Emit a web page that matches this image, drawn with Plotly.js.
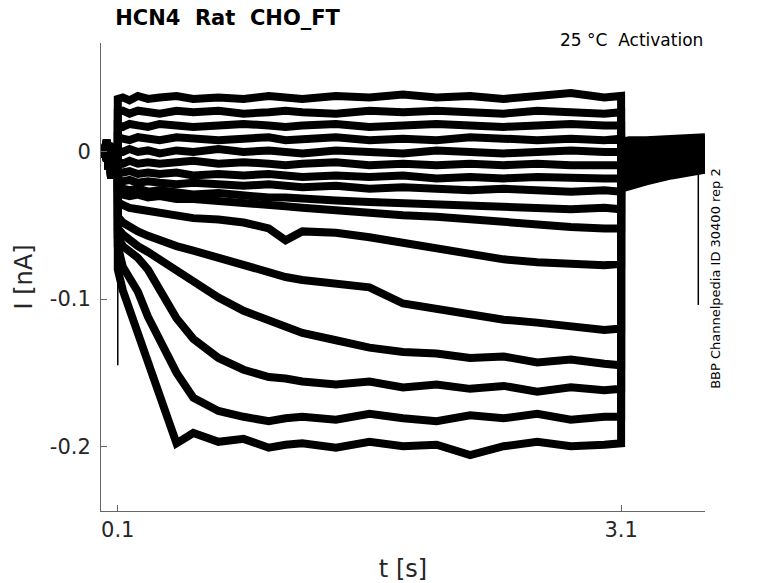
<!DOCTYPE html>
<html>
<head>
<meta charset="utf-8">
<script src="https://cdn.plot.ly/plotly-3.0.1.min.js"></script>
<style>
  html, body { margin: 0; padding: 0; background: #fff; }
  #plot { width: 778px; height: 583px; }
</style>
</head>
<body>
<div id="plot"></div>
<script>
"use strict";

// ── Time grids (s) ──
const preT  = [0, 0.02, 0.035, 0.045, 0.06, 0.08, 0.1];
const stepT = [0.1, 0.13, 0.17, 0.22, 0.28, 0.35, 0.45, 0.55, 0.7, 0.85, 1.0,
               1.1, 1.2, 1.4, 1.6, 1.8, 2.0, 2.2, 2.4, 2.6, 2.8, 3.0, 3.1];
const tailT = [3.1, 3.15, 3.25, 3.4, 3.5, 3.6];

// ── Holding current before the step (nA), three recordings overlap ──
const preA = [0.002, -0.003, 0.004, -0.012, 0.001, -0.002, 0.000];
const preB = [-0.004, 0.003, -0.006, 0.006, -0.018, 0.003, -0.003];
const preC = [0.004, 0.001, 0.008, -0.004, 0.005, -0.005, 0.003];

// ── Current during the activation step (nA), top to bottom ──
const step16 = [0.036, 0.037, 0.035, 0.038, 0.036, 0.037, 0.038, 0.036, 0.037, 0.036, 0.038,
                0.037, 0.036, 0.038, 0.037, 0.039, 0.037, 0.038, 0.036, 0.038, 0.040, 0.037, 0.038];
const step15 = [0.027, 0.028, 0.026, 0.028, 0.027, 0.026, 0.028, 0.027, 0.028, 0.026, 0.027,
                0.028, 0.027, 0.026, 0.028, 0.027, 0.028, 0.027, 0.026, 0.028, 0.027, 0.026, 0.027];
const step14 = [0.018, 0.017, 0.019, 0.018, 0.017, 0.019, 0.018, 0.017, 0.018, 0.019, 0.018,
                0.017, 0.018, 0.019, 0.017, 0.018, 0.019, 0.018, 0.017, 0.018, 0.019, 0.018, 0.018];
const step13 = [0.010, 0.009, 0.008, 0.010, 0.009, 0.008, 0.010, 0.009, 0.008, 0.009, 0.010,
                0.008, 0.009, 0.010, 0.008, 0.009, 0.008, 0.010, 0.009, 0.008, 0.009, 0.008, 0.009];
const step12 = [0.001, 0.000, 0.002, 0.000, 0.001, -0.001, 0.001, 0.000, 0.002, 0.000, 0.001,
                0.000, -0.001, 0.001, 0.000, -0.001, 0.001, 0.000, -0.001, 0.000, 0.001, 0.000, 0.000];
const step11 = [-0.007, -0.008, -0.006, -0.008, -0.007, -0.008, -0.007, -0.006, -0.008, -0.007, -0.008,
                -0.009, -0.008, -0.007, -0.009, -0.008, -0.009, -0.008, -0.009, -0.008, -0.009, -0.009, -0.009];
const step10 = [-0.013, -0.014, -0.013, -0.015, -0.014, -0.015, -0.014, -0.016, -0.015, -0.016, -0.015,
                -0.016, -0.017, -0.016, -0.017, -0.016, -0.018, -0.017, -0.018, -0.017, -0.018, -0.018, -0.018];
const step9  = [-0.019, -0.020, -0.019, -0.021, -0.020, -0.021, -0.022, -0.021, -0.022, -0.023, -0.022,
                -0.023, -0.024, -0.023, -0.025, -0.024, -0.025, -0.026, -0.025, -0.026, -0.027, -0.026, -0.027];
const step8  = [-0.024, -0.025, -0.026, -0.025, -0.027, -0.026, -0.028, -0.029, -0.028, -0.030, -0.031,
                -0.031, -0.032, -0.033, -0.034, -0.035, -0.035, -0.036, -0.037, -0.038, -0.039, -0.038, -0.039];
const step7  = [-0.028, -0.029, -0.030, -0.029, -0.031, -0.030, -0.032, -0.032, -0.033, -0.034, -0.036,
                -0.037, -0.038, -0.040, -0.041, -0.043, -0.044, -0.046, -0.048, -0.049, -0.051, -0.052, -0.052];
const step6  = [-0.034, -0.036, -0.038, -0.039, -0.040, -0.042, -0.043, -0.045, -0.046, -0.048, -0.052,
                -0.060, -0.054, -0.055, -0.058, -0.062, -0.066, -0.069, -0.073, -0.075, -0.076, -0.077, -0.076];
const step5  = [-0.044, -0.048, -0.051, -0.054, -0.057, -0.060, -0.064, -0.067, -0.072, -0.077, -0.082,
                -0.085, -0.087, -0.090, -0.092, -0.103, -0.107, -0.110, -0.114, -0.116, -0.118, -0.121, -0.120];
const step4  = [-0.052, -0.056, -0.060, -0.064, -0.068, -0.073, -0.080, -0.088, -0.099, -0.108, -0.115,
                -0.119, -0.123, -0.128, -0.133, -0.136, -0.137, -0.140, -0.139, -0.143, -0.141, -0.144, -0.145];
const step3  = [-0.058, -0.064, -0.068, -0.072, -0.080, -0.094, -0.113, -0.127, -0.140, -0.148, -0.153,
                -0.154, -0.156, -0.158, -0.156, -0.160, -0.158, -0.161, -0.159, -0.163, -0.160, -0.162, -0.161];
const step2  = [-0.064, -0.078, -0.086, -0.095, -0.112, -0.128, -0.150, -0.167, -0.176, -0.180, -0.183,
                -0.181, -0.180, -0.182, -0.178, -0.181, -0.183, -0.179, -0.181, -0.178, -0.182, -0.180, -0.180];
const step1  = [-0.080, -0.094, -0.107, -0.124, -0.144, -0.167, -0.198, -0.191, -0.197, -0.195, -0.201,
                -0.199, -0.198, -0.201, -0.197, -0.200, -0.199, -0.206, -0.200, -0.197, -0.200, -0.199, -0.198];

// ── Tail current after the step (nA) ──
const tail16 = [0.007, 0.008, 0.008, 0.009, 0.009, 0.010];
const tail15 = [0.005, 0.006, 0.007, 0.008, 0.008, 0.009];
const tail14 = [0.003, 0.004, 0.005, 0.006, 0.007, 0.007];
const tail13 = [0.001, 0.002, 0.003, 0.004, 0.005, 0.006];
const tail12 = [-0.002, -0.001, 0.001, 0.002, 0.003, 0.004];
const tail11 = [-0.004, -0.003, -0.002, 0.000, 0.001, 0.002];
const tail10 = [-0.007, -0.006, -0.004, -0.002, -0.001, 0.000];
const tail9  = [-0.009, -0.008, -0.006, -0.004, -0.003, -0.002];
const tail8  = [-0.011, -0.010, -0.008, -0.006, -0.005, -0.004];
const tail7  = [-0.013, -0.012, -0.010, -0.008, -0.007, -0.006];
const tail6  = [-0.015, -0.014, -0.012, -0.010, -0.008, -0.007];
const tail5  = [-0.017, -0.016, -0.014, -0.012, -0.010, -0.009];
const tail4  = [-0.019, -0.018, -0.016, -0.013, -0.011, -0.010];
const tail3  = [-0.021, -0.020, -0.017, -0.014, -0.012, -0.011];
const tail2  = [-0.023, -0.021, -0.018, -0.015, -0.013, -0.012];
const tail1  = [-0.025, -0.023, -0.020, -0.016, -0.014, -0.012];

// Capacitive / artefact spikes
const spikeOnT = [0.1, 0.1];
const spikeOnI = [-0.02, -0.145];
const spikeEndT = [3.56, 3.56];
const spikeEndI = [-0.012, -0.104];

const stepSeries = [step16, step15, step14, step13, step12, step11, step10, step9,
                    step8, step7, step6, step5, step4, step3, step2, step1];
const tailSeries = [tail16, tail15, tail14, tail13, tail12, tail11, tail10, tail9,
                    tail8, tail7, tail6, tail5, tail4, tail3, tail2, tail1];
const preSeries = [preA, preB, preC];

// Axis ticks
const xTickVals = [0.1, 3.1];
const xTickText = ["0.1", "3.1"];
const yTickVals = [0, -0.1, -0.2];
const yTickText = ["0", "-0.1", "-0.2"];

const FONT = "DejaVu Sans, sans-serif";
const traces = [];

// ── One trace per sweep: holding → step → tail ──
// Lines are drawn wide so each sweep reads as the noisy band it is in
// the recording.
stepSeries.forEach((s, i) => {
    const pre = preSeries[i % preSeries.length];
    traces.push({
        type: "scatter", mode: "lines",
        x: preT.concat(stepT, tailT),
        y: pre.concat(s, tailSeries[i]),
        line: { color: "#000", width: 8 },
        hoverinfo: "skip", showlegend: false,
    });
});
for (const [xs, ys] of [[spikeOnT, spikeOnI], [spikeEndT, spikeEndI]]) {
    traces.push({
        type: "scatter", mode: "lines", x: xs, y: ys,
        line: { color: "#000", width: 1.5 },
        hoverinfo: "skip", showlegend: false,
    });
}

const layout = {
    width: 778, height: 583,
    margin: { l: 101, r: 73, t: 43, b: 72 },
    paper_bgcolor: "#fff", plot_bgcolor: "#fff",
    font: { family: FONT, color: "#262626" },
    title: {
        text: "<b>HCN4  Rat  CHO_FT</b>",
        xref: "container", x: 0.148, xanchor: "left",
        yref: "container", y: 0.969, yanchor: "middle",
        font: { size: 21, color: "#000", family: FONT },
    },
    xaxis: {
        range: [0, 3.6], showgrid: false, zeroline: false,
        showline: true, linecolor: "#666", linewidth: 1,
        ticks: "inside", ticklen: 6, tickcolor: "#666",
        tickvals: xTickVals, ticktext: xTickText,
        tickfont: { size: 21, color: "#262626" },
        title: { text: "t [s]", font: { size: 24, color: "#262626" }, standoff: 20 },
    },
    yaxis: {
        range: [-0.244, 0.074], showgrid: false, zeroline: false,
        showline: true, linecolor: "#666", linewidth: 1,
        ticks: "inside", ticklen: 6, tickcolor: "#666",
        tickvals: yTickVals, ticktext: yTickText,
        tickfont: { size: 21, color: "#262626" },
        ticklabelstandoff: 5,
        title: { text: "I [nA]", font: { size: 24, color: "#262626" }, standoff: 10 },
    },
    annotations: [
        { text: "25 °C  Activation", xref: "paper", yref: "paper",
          x: 1.0, y: 1.006, xanchor: "right", yanchor: "middle", showarrow: false,
          font: { size: 17, color: "#000" } },
        { text: "BBP Channelpedia ID 30400 rep 2", xref: "paper", yref: "paper",
          x: 1.018, y: 0.498, xanchor: "center", yanchor: "middle", showarrow: false,
          textangle: -90, font: { size: 13, color: "#000" } },
    ],
};

Plotly.newPlot("plot", traces, layout, { displayModeBar: false, responsive: false });
</script>
</body>
</html>
